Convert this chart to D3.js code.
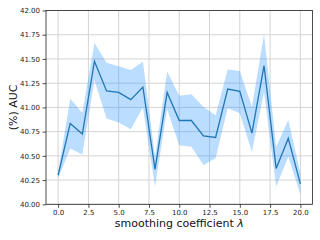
<!DOCTYPE html>
<html>
<head>
<meta charset="utf-8">
<script src="https://cdn.jsdelivr.net/npm/d3@7"></script>
<style>
  body { margin: 0; background: #fff; }
  svg { display: block; font-family: "DejaVu Sans", sans-serif; }
</style>
</head>
<body>
<script>
// smoothing coefficient values and AUC (%) mean with its band
var lambdas = [0, 1, 2, 3, 4, 5, 6, 7, 8, 9, 10, 11, 12, 13, 14, 15, 16, 17, 18, 19, 20];
var aucMean = [40.30, 40.835, 40.725, 41.475, 41.17, 41.155, 41.08, 41.21, 40.36, 41.155, 40.865,
               40.865, 40.705, 40.69, 41.19, 41.165, 40.735, 41.43, 40.37, 40.68, 40.21];
var aucUpper = [40.33, 41.09, 40.945, 41.665, 41.46, 41.425, 41.385, 41.47, 40.49, 41.37, 41.12,
                41.135, 41.005, 40.92, 41.39, 41.375, 41.005, 41.755, 40.595, 40.87, 40.32];
var aucLower = [40.27, 40.575, 40.515, 41.28, 40.885, 40.845, 40.775, 41.0, 40.18, 40.98, 40.61,
                40.595, 40.405, 40.475, 40.99, 40.94, 40.54, 41.16, 40.18, 40.49, 40.105];
var xTicks = [0, 2.5, 5, 7.5, 10, 12.5, 15, 17.5, 20];
var yTicks = [40, 40.25, 40.5, 40.75, 41, 41.25, 41.5, 41.75, 42];

var width = 320, height = 240;
var margin = {top: 10.5, right: 7.5, bottom: 35.7, left: 46};
var w = width - margin.left - margin.right,
    h = height - margin.top - margin.bottom;

var data = lambdas.map(function (d, i) {
    return {x: d, y: aucMean[i], lo: aucLower[i], hi: aucUpper[i]};
});

var svg = d3.select("body").append("svg")
    .attr("width", width)
    .attr("height", height);

var g = svg.append("g")
    .attr("transform", "translate(" + margin.left + "," + margin.top + ")");

var x = d3.scaleLinear().domain([-1, 21]).range([0, w]);
var y = d3.scaleLinear().domain([40, 42]).range([h, 0]);

// grid
g.append("g").selectAll("line").data(xTicks).enter().append("line")
    .attr("x1", function (d) { return x(d); })
    .attr("x2", function (d) { return x(d); })
    .attr("y1", 0).attr("y2", h)
    .attr("stroke", "#d4d4d4").attr("stroke-width", 1);
g.append("g").selectAll("line").data(yTicks).enter().append("line")
    .attr("y1", function (d) { return y(d); })
    .attr("y2", function (d) { return y(d); })
    .attr("x1", 0).attr("x2", w)
    .attr("stroke", "#d4d4d4").attr("stroke-width", 1);

// band
var band = d3.area()
    .x(function (d) { return x(d.x); })
    .y0(function (d) { return y(d.lo); })
    .y1(function (d) { return y(d.hi); });

g.append("path")
    .datum(data)
    .attr("d", band)
    .attr("fill", "rgb(30,144,255)")
    .attr("fill-opacity", 0.3);

var line = d3.line()
    .x(function (d) { return x(d.x); })
    .y(function (d) { return y(d.y); });

g.append("path")
    .datum(data)
    .attr("d", line)
    .attr("fill", "none")
    .attr("stroke", "#1f77b4")
    .attr("stroke-width", 1.3);

// axes
var axisX = g.append("g")
    .attr("transform", "translate(0," + h + ")")
    .call(d3.axisBottom(x).tickValues(xTicks).tickFormat(d3.format(".1f")).tickSizeOuter(0).tickSize(3.5).tickPadding(2.5));
var axisY = g.append("g")
    .call(d3.axisLeft(y).tickValues(yTicks).tickFormat(d3.format(".2f")).tickSizeOuter(0).tickSize(3.5).tickPadding(2.5));

[axisX, axisY].forEach(function (a) {
    a.select(".domain").remove();
    a.selectAll("text").attr("font-size", 7).attr("font-family", "DejaVu Sans").attr("fill", "#222");
    a.selectAll("line").attr("stroke", "#222").attr("stroke-width", 0.8);
});

// frame
g.append("rect")
    .attr("width", w).attr("height", h)
    .attr("fill", "none")
    .attr("stroke", "#222")
    .attr("stroke-width", 0.8);

// labels
var xl = svg.append("text")
    .attr("x", margin.left + w / 2)
    .attr("y", 227)
    .attr("text-anchor", "middle")
    .attr("font-size", 11)
    .attr("fill", "#111");
xl.append("tspan").text("smoothing coefficient ");
xl.append("tspan").attr("font-style", "italic").text("λ");

svg.append("text")
    .attr("transform", "translate(17," + (margin.top + h / 2) + ") rotate(-90)")
    .attr("text-anchor", "middle")
    .attr("font-size", 11)
    .attr("fill", "#111")
    .text("(%) AUC");
</script>
</body>
</html>
